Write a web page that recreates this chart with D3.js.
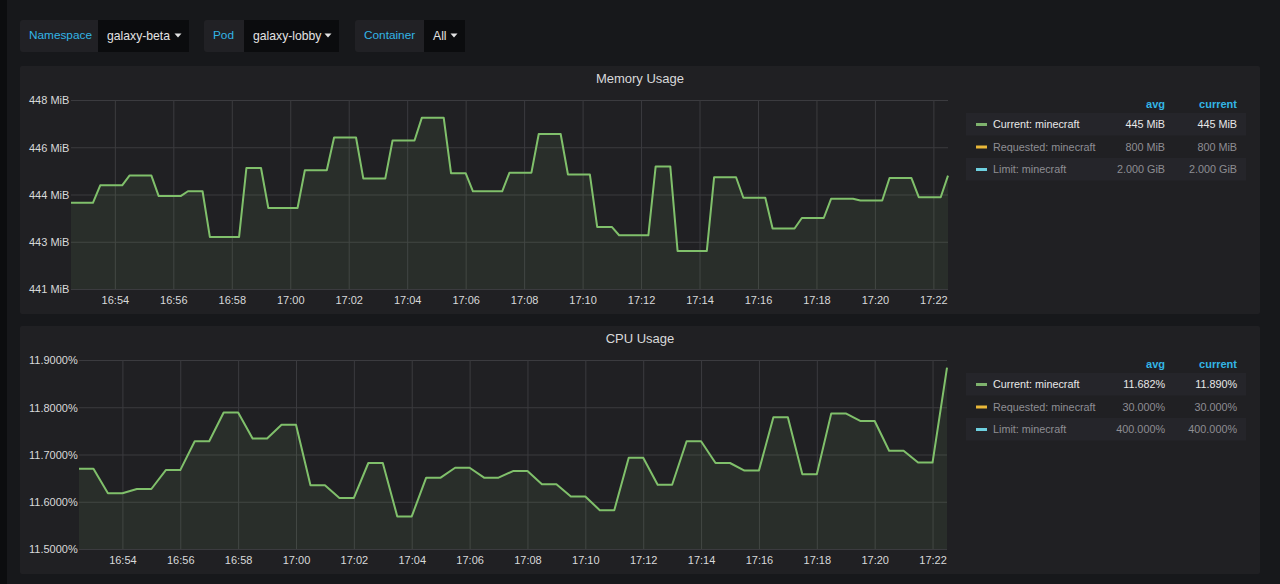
<!DOCTYPE html>
<html>
<head>
<meta charset="utf-8">
<script src="https://cdn.jsdelivr.net/npm/d3@7/dist/d3.min.js"></script>
<style>
  html, body { margin: 0; padding: 0; background: #17181b; }
  svg { display: block; font-family: "Liberation Sans", Arial, sans-serif; }
</style>
</head>
<body>
<svg id="chart" width="1280" height="584"></svg>
<script>
// template variables shown above the panels
var varLabels = ["Namespace", "Pod", "Container"];
var varValues = ["galaxy-beta", "galaxy-lobby", "All"];

// memory usage (MiB), vertices of the series line
var memPoints = [
    ["16:52:30", 444.19], ["16:53:15", 444.19], ["16:53:30", 444.84], ["16:54:15", 444.84],
    ["16:54:30", 445.20], ["16:55:15", 445.20], ["16:55:30", 444.44], ["16:56:15", 444.44],
    ["16:56:30", 444.62], ["16:57:00", 444.62], ["16:57:15", 442.93], ["16:58:15", 442.93],
    ["16:58:30", 445.48], ["16:59:00", 445.48], ["16:59:15", 444.00], ["17:00:15", 444.00],
    ["17:00:30", 445.40], ["17:01:15", 445.40], ["17:01:30", 446.61], ["17:02:15", 446.61],
    ["17:02:30", 445.09], ["17:03:15", 445.09], ["17:03:30", 446.50], ["17:04:15", 446.50],
    ["17:04:30", 447.34], ["17:05:15", 447.34], ["17:05:30", 445.29], ["17:06:00", 445.29],
    ["17:06:15", 444.62], ["17:07:15", 444.62], ["17:07:30", 445.31], ["17:08:15", 445.31],
    ["17:08:30", 446.74], ["17:09:15", 446.74], ["17:09:30", 445.24], ["17:10:15", 445.24],
    ["17:10:30", 443.30], ["17:11:00", 443.30], ["17:11:15", 442.99], ["17:12:15", 442.99],
    ["17:12:30", 445.54], ["17:13:00", 445.54], ["17:13:15", 442.41], ["17:14:15", 442.41],
    ["17:14:30", 445.14], ["17:15:15", 445.14], ["17:15:30", 444.38], ["17:16:15", 444.38],
    ["17:16:30", 443.24], ["17:17:15", 443.24], ["17:17:30", 443.63], ["17:18:15", 443.63],
    ["17:18:30", 444.34], ["17:19:15", 444.34], ["17:19:30", 444.28], ["17:20:15", 444.28],
    ["17:20:30", 445.11], ["17:21:15", 445.11], ["17:21:30", 444.40], ["17:22:15", 444.40],
    ["17:22:30", 445.20]
];
var memTicks = [441, 442.75, 444.5, 446.25, 448];
var memTickLabels = ["441 MiB", "443 MiB", "444 MiB", "446 MiB", "448 MiB"];

// cpu usage (%), vertices of the series line
var cpuPoints = [
    ["16:52:30", 11.670], ["16:53:00", 11.670], ["16:53:30", 11.618], ["16:54:00", 11.618],
    ["16:54:30", 11.627], ["16:55:00", 11.627], ["16:55:30", 11.667], ["16:56:00", 11.667],
    ["16:56:30", 11.728], ["16:57:00", 11.728], ["16:57:30", 11.789], ["16:58:00", 11.789],
    ["16:58:30", 11.734], ["16:59:00", 11.734], ["16:59:30", 11.763], ["17:00:00", 11.763],
    ["17:00:30", 11.635], ["17:01:00", 11.635], ["17:01:30", 11.608], ["17:02:00", 11.608],
    ["17:02:30", 11.682], ["17:03:00", 11.682], ["17:03:30", 11.569], ["17:04:00", 11.569],
    ["17:04:30", 11.651], ["17:05:00", 11.651], ["17:05:30", 11.672], ["17:06:00", 11.672],
    ["17:06:30", 11.651], ["17:07:00", 11.651], ["17:07:30", 11.665], ["17:08:00", 11.665],
    ["17:08:30", 11.637], ["17:09:00", 11.637], ["17:09:30", 11.611], ["17:10:00", 11.611],
    ["17:10:30", 11.582], ["17:11:00", 11.582], ["17:11:30", 11.693], ["17:12:00", 11.693],
    ["17:12:30", 11.636], ["17:13:00", 11.636], ["17:13:30", 11.728], ["17:14:00", 11.728],
    ["17:14:30", 11.682], ["17:15:00", 11.682], ["17:15:30", 11.666], ["17:16:00", 11.666],
    ["17:16:30", 11.779], ["17:17:00", 11.779], ["17:17:30", 11.658], ["17:18:00", 11.658],
    ["17:18:30", 11.787], ["17:19:00", 11.787], ["17:19:30", 11.771], ["17:20:00", 11.771],
    ["17:20:30", 11.708], ["17:21:00", 11.708], ["17:21:30", 11.683], ["17:22:00", 11.683],
    ["17:22:30", 11.884]
];
var cpuTicks = [11.5, 11.6, 11.7, 11.8, 11.9];

// legends
var legendNames = ["Current: minecraft", "Requested: minecraft", "Limit: minecraft"];
var legendColors = ["#7eb26d", "#eab839", "#6ed0e0"];
var memAvg = ["445 MiB", "800 MiB", "2.000 GiB"];
var memCurrent = ["445 MiB", "800 MiB", "2.000 GiB"];
var cpuAvg = ["11.682%", "30.000%", "400.000%"];
var cpuCurrent = ["11.890%", "30.000%", "400.000%"];

var timeDomain = ["16:52:30", "17:22:30"];

var parseTime = d3.timeParse("%H:%M:%S");
var svg = d3.select("#chart");

svg.append("rect").attr("width", 1280).attr("height", 584).attr("fill", "#17181b");
svg.append("rect").attr("width", 7).attr("height", 584).attr("fill", "#0c0d0f");

// template variable boxes
var varBoxes = [
    {x: 20, lw: 78, vw: 91},
    {x: 204, lw: 40, vw: 95},
    {x: 355, lw: 69, vw: 41}
];
varLabels.forEach(function(lbl, i) {
    var b = varBoxes[i];
    var g = svg.append("g").attr("transform", "translate(" + b.x + ",20)");
    g.append("rect").attr("width", b.lw + b.vw).attr("height", 32).attr("rx", 3).attr("fill", "#212125");
    g.append("rect").attr("x", b.lw).attr("width", b.vw).attr("height", 32).attr("fill", "#0b0c0e");
    g.append("text").attr("x", 9).attr("y", 19).attr("fill", "#33b5e5")
        .attr("font-size", 11.8).text(lbl);
    g.append("text").attr("x", b.lw + 9).attr("y", 19.5).attr("fill", "#e3e3e3")
        .attr("font-size", 12.2).text(varValues[i]);
    var cx = b.lw + b.vw - 11;
    g.append("path").attr("d", "M" + (cx - 3.5) + ",13.5 L" + (cx + 3.5) + ",13.5 L" + cx + ",17.5 Z")
        .attr("fill", "#e3e3e3");
});

function drawPanel(cfg) {
    var p = svg.append("g");
    p.append("rect").attr("x", 20).attr("y", cfg.top).attr("width", 1240).attr("height", cfg.height)
        .attr("rx", 2).attr("fill", "#202023");
    p.append("text").attr("x", 640).attr("y", cfg.top + 17).attr("text-anchor", "middle")
        .attr("fill", "#d8d9da").attr("font-size", 13).text(cfg.title);

    var x = d3.scaleTime()
        .domain(timeDomain.map(parseTime))
        .range([cfg.left, cfg.right]);
    var y = d3.scaleLinear()
        .domain(cfg.domain)
        .range([cfg.bottom, cfg.plotTop]);

    // horizontal grid + y labels
    var yAxis = d3.axisLeft(y).tickValues(cfg.ticks)
        .tickSize(-(cfg.right - cfg.left))
        .tickFormat(function(d, i) { return cfg.tickLabel(d, i); });
    var ya = p.append("g").attr("transform", "translate(" + cfg.left + ",0)").call(yAxis);
    ya.select(".domain").remove();
    ya.selectAll("line").attr("stroke", "#3b3b3f").attr("stroke-width", 1);
    ya.selectAll("text").attr("fill", "#d8d9da").attr("font-size", 11)
        .attr("text-anchor", "start").attr("x", 29 - cfg.left).attr("dy", "0.35em");

    // vertical grid + time labels
    var xAxis = d3.axisBottom(x).ticks(d3.timeMinute.every(2))
        .tickSize(-(cfg.bottom - cfg.plotTop))
        .tickFormat(d3.timeFormat("%H:%M"));
    var xa = p.append("g").attr("transform", "translate(0," + cfg.bottom + ")").call(xAxis);
    xa.select(".domain").remove();
    xa.selectAll("line").attr("stroke", "#3b3b3f").attr("stroke-width", 1);
    xa.selectAll("text").attr("fill", "#d8d9da").attr("font-size", 11).attr("y", 11).attr("dy", "0.35em");

    var data = cfg.points.map(function(d) { return {t: parseTime(d[0]), v: d[1]}; });
    var area = d3.area()
        .x(function(d) { return x(d.t); })
        .y0(cfg.bottom)
        .y1(function(d) { return y(d.v); });
    var line = d3.line()
        .x(function(d) { return x(d.t); })
        .y(function(d) { return y(d.v); });
    p.append("path").datum(data).attr("d", area)
        .attr("fill", "#7eb26d").attr("fill-opacity", 0.1);
    p.append("path").datum(data).attr("d", line)
        .attr("fill", "none").attr("stroke", "#80c06b").attr("stroke-width", 2)
        .attr("stroke-linejoin", "round");

    // legend table
    var lg = p.append("g");
    var hy = cfg.plotTop + 8;
    lg.append("text").attr("x", 1165).attr("y", hy).attr("text-anchor", "end")
        .attr("fill", "#33b5e5").attr("font-size", 11).attr("font-weight", "bold").text("avg");
    lg.append("text").attr("x", 1237).attr("y", hy).attr("text-anchor", "end")
        .attr("fill", "#33b5e5").attr("font-size", 11).attr("font-weight", "bold").text("current");
    legendNames.forEach(function(name, i) {
        var ry = cfg.plotTop + 13 + i * 22.5;
        if (i % 2 === 0) {
            lg.append("rect").attr("x", 966).attr("y", ry).attr("width", 280).attr("height", 22.5)
                .attr("fill", "#25252a");
        }
        var cy = ry + 11.5;
        lg.append("rect").attr("x", 976).attr("y", cy - 1.5).attr("width", 11).attr("height", 3)
            .attr("fill", legendColors[i]);
        var col = i === 0 ? "#e8e8e8" : "#8e8e93";
        lg.append("text").attr("x", 993).attr("y", cy).attr("dy", "0.35em")
            .attr("fill", col).attr("font-size", 10.8).text(name);
        lg.append("text").attr("x", 1165).attr("y", cy).attr("dy", "0.35em").attr("text-anchor", "end")
            .attr("fill", col).attr("font-size", 10.8).text(cfg.avg[i]);
        lg.append("text").attr("x", 1237).attr("y", cy).attr("dy", "0.35em").attr("text-anchor", "end")
            .attr("fill", col).attr("font-size", 10.8).text(cfg.current[i]);
    });
}

drawPanel({
    title: "Memory Usage", top: 66, height: 248,
    left: 71, right: 948, plotTop: 100, bottom: 289,
    domain: [441, 448], ticks: memTicks,
    tickLabel: function(d, i) { return memTickLabels[i]; },
    points: memPoints, avg: memAvg, current: memCurrent
});

drawPanel({
    title: "CPU Usage", top: 326, height: 248,
    left: 79, right: 947, plotTop: 360, bottom: 549,
    domain: [11.5, 11.9], ticks: cpuTicks,
    tickLabel: function(d) { return d3.format(".4f")(d) + "%"; },
    points: cpuPoints, avg: cpuAvg, current: cpuCurrent
});
</script>
</body>
</html>
